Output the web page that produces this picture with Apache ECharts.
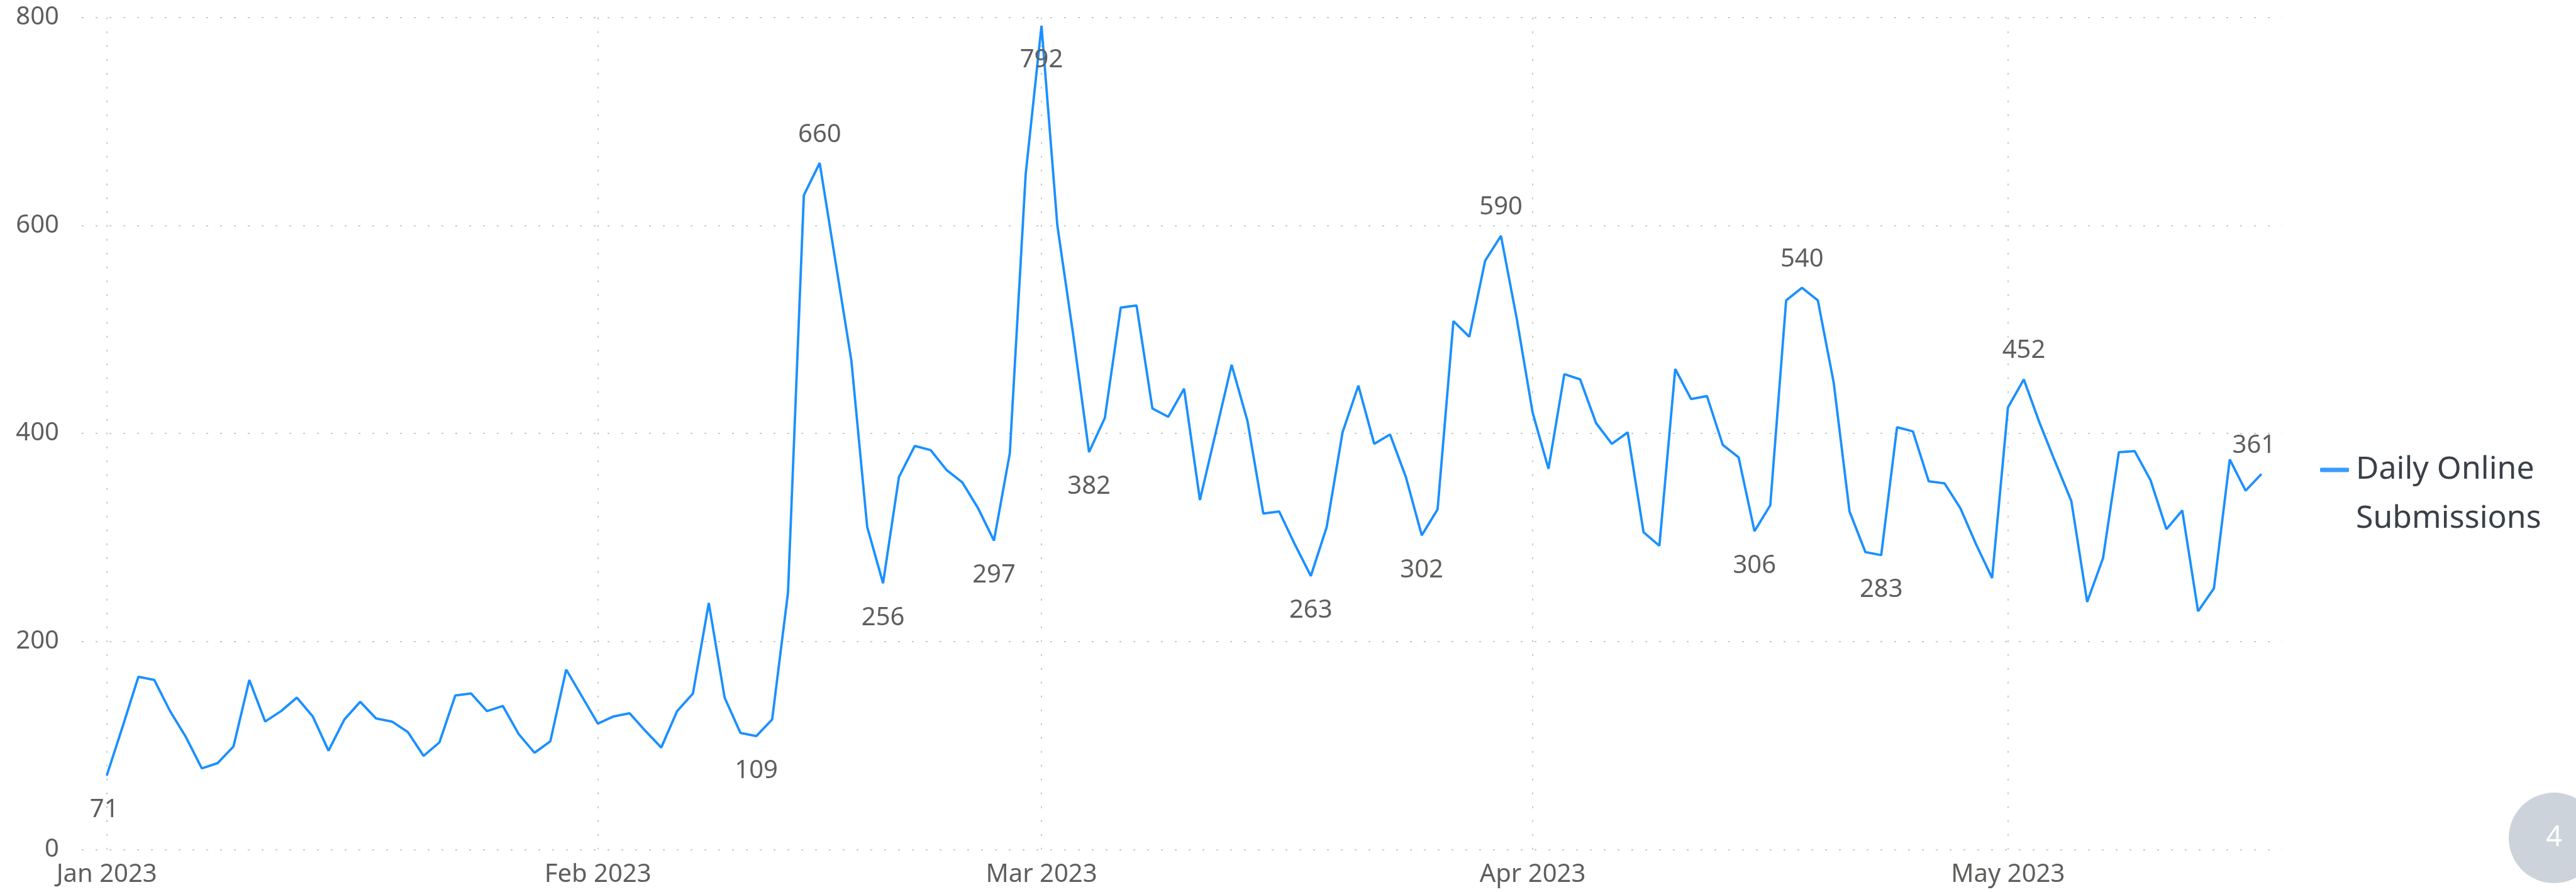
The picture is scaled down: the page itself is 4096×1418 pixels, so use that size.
<!DOCTYPE html>
<html>
<head>
<meta charset="utf-8">
<script src="https://cdn.jsdelivr.net/npm/echarts@6/dist/echarts.min.js"></script>
<style>
html,body{margin:0;padding:0;background:#ffffff;}
#c{width:4096px;height:1418px;}
</style>
</head>
<body>
<div id="c"></div>
<script>
// ---- data ----
const seriesName = 'Daily Online Submissions';
const startDate = '2023-01-01';
// one value per day, starting Jan 1 2023 (137 days, to May 17 2023)
const dailyValues = [
  71,118,166,163,133,108,78,83,99,163,123,133,146,128,95,125,142,126,123,113,90,103,148,150,133,138,111,93,104,173,147,
  121,128,131,114,98,133,150,237,146,112,109,125,247,629,660,565,470,310,256,358,388,384,365,353,328,297,381,649,
  792,600,495,382,415,521,523,424,416,443,336,401,466,412,323,325,293,263,310,401,446,390,399,358,302,327,508,493,566,590,510,
  420,366,457,452,410,390,401,305,292,462,433,436,389,377,306,331,528,540,528,449,325,286,283,406,402,354,352,328,293,261,
  425,452,410,372,335,238,280,382,383,355,308,326,229,251,375,345,361
];
const monthTickDays = [0, 31, 59, 90, 120];
const monthTickLabels = ['Jan 2023', 'Feb 2023', 'Mar 2023', 'Apr 2023', 'May 2023'];
const yTickValues = [0, 200, 400, 600, 800];
const labelAboveDays = [45, 88, 107, 121, 136];
const labelBelowDays = [0, 41, 49, 56, 59, 62, 76, 83, 104, 112];
const pageNumber = '4';

// ---- chart ----
const FONT = '"Noto Sans", "Open Sans", sans-serif';
const LABEL_COLOR = '#605E5C';
const GRID_STYLE = { color: '#c9c9c9', width: 2, type: [3, 19] };

const seriesData = dailyValues.map(function (v, i) {
  const item = { value: [i, v] };
  if (labelAboveDays.indexOf(i) >= 0) {
    item.label = { show: true, position: 'top', distance: 25 };
  } else if (labelBelowDays.indexOf(i) >= 0) {
    item.label = { show: true, position: 'bottom', distance: 35 };
  }
  if (i === 0 && item.label) item.label.offset = [-4, 0];
  if (i === dailyValues.length - 1 && item.label) item.label.offset = [-12, 0];
  return item;
});

const chart = echarts.init(document.getElementById('c'), null, { renderer: 'canvas' });
chart.setOption({
  backgroundColor: '#ffffff',
  animation: false,
  textStyle: { fontFamily: FONT },
  grid: { left: 130, top: 27.7, width: 3498.6, height: 1322.7, containLabel: false },
  legend: {
    show: true,
    data: [seriesName],
    left: 3689,
    top: 630,
    padding: 0,
    itemWidth: 46,
    itemHeight: 7,
    icon: 'roundRect',
    itemStyle: { color: '#3A9BFF' },
    formatter: function () { return '\nDaily Online\nSubmissions'; },
    textStyle: { fontFamily: FONT, fontSize: 50, lineHeight: 78, color: '#3a4047', padding: [0, 0, 0, 6] }
  },
  xAxis: {
    type: 'value',
    min: -1.576,
    max: 137.3,
    axisLine: { show: false },
    axisTick: { show: false, customValues: monthTickDays },
    axisLabel: {
      customValues: monthTickDays,
      formatter: function (v) {
        const k = monthTickDays.indexOf(Math.round(v));
        return k >= 0 ? monthTickLabels[k] : '';
      },
      fontFamily: FONT,
      fontSize: 40,
      color: LABEL_COLOR,
      margin: 20
    },
    splitLine: { show: true, lineStyle: GRID_STYLE }
  },
  yAxis: {
    type: 'value',
    min: yTickValues[0],
    max: yTickValues[yTickValues.length - 1],
    interval: yTickValues[1] - yTickValues[0],
    axisLine: { show: false },
    axisTick: { show: false },
    axisLabel: { fontFamily: FONT, fontSize: 40, color: LABEL_COLOR, margin: 36 },
    splitLine: { show: true, lineStyle: GRID_STYLE }
  },
  series: [{
    name: seriesName,
    type: 'line',
    data: seriesData,
    showSymbol: true,
    symbol: 'circle',
    symbolSize: 0.1,
    itemStyle: { color: '#1A90FF' },
    lineStyle: { color: '#1A90FF', width: 3.8 },
    label: {
      show: false,
      fontFamily: FONT,
      fontSize: 40,
      color: LABEL_COLOR,
      formatter: function (p) { return String(p.value[1]); }
    },
    emphasis: { disabled: true }
  }],
  graphic: [
    { type: 'circle', shape: { cx: 4061, cy: 1332, r: 72 }, style: { fill: '#CDD3DA' }, z: 10 },
    { type: 'text', x: 4061, y: 1332, style: { text: pageNumber, fontFamily: FONT, fontSize: 45, fill: '#ffffff', align: 'center', verticalAlign: 'middle' }, z: 11 }
  ]
});
</script>
</body>
</html>
